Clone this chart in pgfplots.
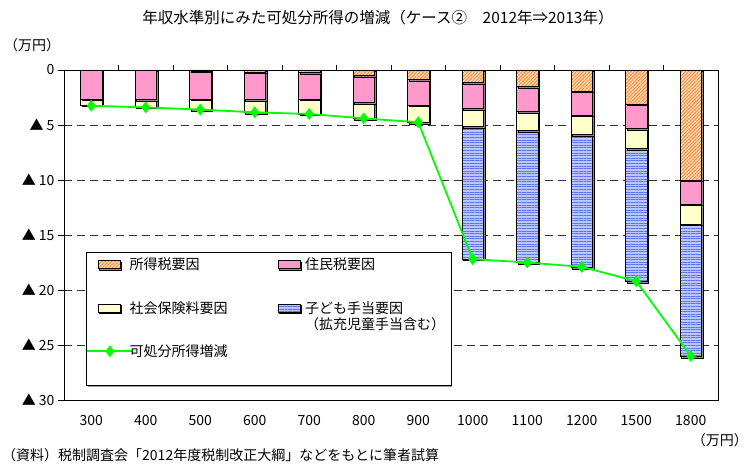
\documentclass[border=0pt]{standalone}
\usepackage{pgfplots}
\pgfplotsset{compat=1.18}
\usepackage{fontspec}
\setmainfont{Noto Sans CJK JP}
\usetikzlibrary{patterns,patterns.meta,shadows}

\definecolor{taxor}{RGB}{255,130,40}
\definecolor{taxbg}{RGB}{255,225,195}
\definecolor{respink}{RGB}{255,153,204}
\definecolor{socyel}{RGB}{255,255,204}
\definecolor{kidbg}{RGB}{185,198,255}
\definecolor{kidln}{RGB}{95,115,235}
\definecolor{incgrn}{RGB}{0,255,0}

\newcommand\fs{\fontsize{14pt}{17pt}\selectfont}
% entries of the first legend column sit closer to their symbols
\newcommand\lc{\hspace*{-9pt}}

\pgfplotsset{
  barshadow/.style={drop shadow={shadow xshift=1.6pt, shadow yshift=-1.6pt, fill=black!45, opacity=1}},
  barleg/.style={legend image code/.code={\draw[##1] (0pt,-4pt) rectangle (22pt,4pt);}},
  lineleg/.style={legend image code/.code={\draw[mark repeat=2, mark phase=2, ##1]
    plot coordinates {(0pt,0pt) (12pt,0pt) (24pt,0pt)};}},
  incstyle/.style={incgrn, line width=1.8pt, mark=diamond*, mark size=4.5pt,
    mark options={fill=incgrn, draw=incgrn}},
}

\begin{document}
\begin{tikzpicture}[font=\fs]
\path[use as bounding box] (0,0) rectangle (750pt,465pt);

\begin{axis}[
  at={(64pt,65pt)}, anchor=south west,
  scale only axis, width=654pt, height=330pt,
  ybar stacked, bar width=21.5pt,
  xmin=-0.5, xmax=11.5, ymin=-30, ymax=0,
  clip=false,
  axis line style={line width=0.8pt},
  tick align=outside,
  major tick length=6pt,
  xtick={0,...,11},
  xticklabels={300,400,500,600,700,800,900,1000,1100,1200,1500,1800},
  xtick style={draw=none},
  xticklabel style={font=\fs, yshift=-6pt},
  ytick={-30,-25,-20,-15,-10,-5,0},
  yticklabels={▲ 30,▲ 25,▲ 20,▲ 15,▲ 10,▲ 5,0},
  ytick pos=left,
  ytick style={line width=0.8pt, black},
  yticklabel style={font=\fs},
  ymajorgrids,
  grid style={dash pattern=on 8pt off 5pt, black!80, line width=0.8pt},
  legend columns=2,
  legend cell align=left,
  legend style={at={(axis cs:-0.096,-16.9)}, anchor=north west,
    draw=none, fill=none, inner sep=0pt, font=\fs,
    row sep=26pt,
    /tikz/every odd column/.append style={column sep=3pt},
    /tikz/every even column/.append style={column sep=48pt}},
]
% income tax
\addplot[draw=black, line width=0.6pt, fill=taxbg,
  postaction={pattern={Lines[angle=45,distance=2.4pt,line width=0.9pt]}, pattern color=taxor},
  barshadow, barleg] coordinates {
  (0,0) (1,0) (2,-0.05) (3,-0.2) (4,-0.25) (5,-0.5) (6,-0.85)
  (7,-1.15) (8,-1.5) (9,-1.9) (10,-3.1) (11,-10.0)};
\addlegendentry{\lc 所得税要因}
% resident tax
\addplot[draw=black, line width=0.6pt, fill=respink, barshadow, barleg] coordinates {
  (0,-2.65) (1,-2.7) (2,-2.6) (3,-2.5) (4,-2.4) (5,-2.45) (6,-2.35)
  (7,-2.35) (8,-2.3) (9,-2.2) (10,-2.2) (11,-2.2)};
\addlegendentry{住民税要因}
% social insurance
\addplot[draw=black, line width=0.6pt, fill=socyel, barshadow, barleg] coordinates {
  (0,-0.55) (1,-0.65) (2,-0.95) (3,-1.15) (4,-1.35) (5,-1.45) (6,-1.55)
  (7,-1.65) (8,-1.7) (9,-1.75) (10,-1.85) (11,-1.8)};
\addlegendentry{\lc 社会保険料要因}
% child allowance
\addplot[draw=black, line width=0.6pt, fill=kidbg,
  postaction={pattern={Lines[angle=0,distance=2.6pt,line width=0.9pt]}, pattern color=kidln},
  barshadow, barleg] coordinates {
  (0,0) (1,0) (2,0) (3,0) (4,0) (5,0) (6,0)
  (7,-12.05) (8,-12.0) (9,-12.1) (10,-12.1) (11,-12.05)};
\addlegendentry{\makebox[0pt][l]{\raisebox{-16pt}[0pt][0pt]{（拡充児童手当含む）}}子ども手当要因}
\addlegendimage{incstyle, lineleg}
\addlegendentry{\lc 可処分所得増減}

% legend frame
\draw[line width=0.8pt, fill=white,
  drop shadow={shadow xshift=1.5pt, shadow yshift=-1.5pt, fill=black!40, opacity=1}]
  (axis cs:-0.096,-16.55) rectangle (axis cs:6.60,-28.64);

% category separators on the zero line
\pgfplotsinvokeforeach{0.5,1.5,2.5,3.5,4.5,5.5,6.5,7.5,8.5,9.5,10.5}{
  \draw[line width=0.8pt] (axis cs:#1,0) -- ([yshift=5pt]axis cs:#1,0);
}
\end{axis}

% disposable income change
\begin{axis}[
  at={(64pt,65pt)}, anchor=south west,
  scale only axis, width=654pt, height=330pt,
  xmin=-0.5, xmax=11.5, ymin=-30, ymax=0,
  hide axis, clip=false,
]
\addplot[incstyle] coordinates {
  (0,-3.25) (1,-3.4) (2,-3.6) (3,-3.85) (4,-4.0) (5,-4.4) (6,-4.75)
  (7,-17.2) (8,-17.5) (9,-17.9) (10,-19.2) (11,-26.0)};
\end{axis}

\node[font=\fontsize{15.5pt}{18pt}\selectfont] at (378pt,447pt)
  {年収水準別にみた可処分所得の増減（ケース②　2012年⇒2013年）};
\node[anchor=west, inner sep=0pt] at (4pt,420pt) {（万円）};
\node[anchor=east, inner sep=0pt] at (748pt,25pt) {（万円）};
\node[anchor=west, inner sep=0pt] at (2pt,10pt)
  {（資料）税制調査会「2012年度税制改正大綱」などをもとに筆者試算};
\end{tikzpicture}
\end{document}
